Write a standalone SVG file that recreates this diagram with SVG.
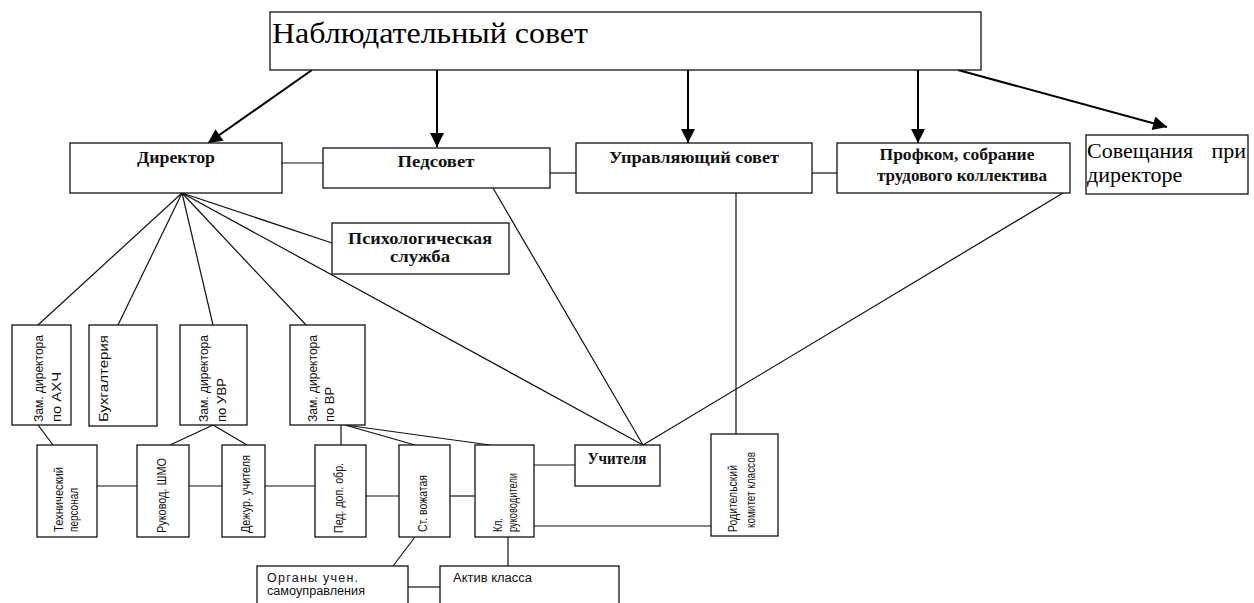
<svg xmlns="http://www.w3.org/2000/svg" width="1254" height="603" viewBox="0 0 1254 603">
<style>
.box{fill:#fff;stroke:#111;stroke-width:1.3}
.ln{stroke:#111;stroke-width:1.2;fill:none}
.ar{stroke:#000;stroke-width:2;fill:none}
.b{font-family:"Liberation Serif",serif;font-weight:bold;font-size:16px;fill:#111;text-anchor:middle}
.t{font-family:"Liberation Serif",serif;fill:#000}
.v{font-family:"Liberation Sans",sans-serif;font-size:13px;fill:#111}
.s{font-family:"Liberation Sans",sans-serif;font-size:12.5px;fill:#111}
</style>
<defs>
<marker id="ah" viewBox="0 0 10 10" refX="10" refY="5" markerWidth="8" markerHeight="7" markerUnits="strokeWidth" orient="auto">
<path d="M0,0 L10,5 L0,10 z" fill="#000"/>
</marker>
</defs>
<rect width="1254" height="603" fill="#fff"/>
<g id="connectors">
<line class="ar" x1="312" y1="70" x2="208" y2="143" marker-end="url(#ah)"/>
<line class="ar" x1="437" y1="70" x2="437" y2="147" marker-end="url(#ah)"/>
<line class="ar" x1="688" y1="70" x2="688" y2="143" marker-end="url(#ah)"/>
<line class="ar" x1="918" y1="70" x2="918" y2="143" marker-end="url(#ah)"/>
<line class="ar" x1="958" y1="70" x2="1167" y2="127" marker-end="url(#ah)"/>
<line class="ln" x1="282" y1="163" x2="323" y2="163"/>
<line class="ln" x1="550" y1="173" x2="576" y2="173"/>
<line class="ln" x1="812" y1="173" x2="837" y2="173"/>
<line class="ln" x1="182" y1="193" x2="38" y2="325"/>
<line class="ln" x1="182" y1="193" x2="118" y2="325"/>
<line class="ln" x1="182" y1="193" x2="213" y2="325"/>
<line class="ln" x1="182" y1="193" x2="306" y2="325"/>
<line class="ln" x1="182" y1="193" x2="332" y2="243"/>
<line class="ln" x1="182" y1="193" x2="643" y2="445"/>
<line class="ln" x1="493" y1="188" x2="643" y2="445"/>
<line class="ln" x1="1063" y1="193" x2="643" y2="445"/>
<line class="ln" x1="736" y1="193" x2="736" y2="434"/>
<line class="ln" x1="38" y1="425" x2="53" y2="445"/>
<line class="ln" x1="213" y1="425" x2="170" y2="445"/>
<line class="ln" x1="213" y1="425" x2="247" y2="445"/>
<line class="ln" x1="341" y1="425" x2="341" y2="445"/>
<line class="ln" x1="345" y1="425" x2="415" y2="445"/>
<line class="ln" x1="345" y1="425" x2="490" y2="445"/>
<line class="ln" x1="97" y1="486" x2="137" y2="486"/>
<line class="ln" x1="189" y1="486" x2="222" y2="486"/>
<line class="ln" x1="265" y1="486" x2="315" y2="486"/>
<line class="ln" x1="366" y1="496" x2="399" y2="496"/>
<line class="ln" x1="450" y1="496" x2="475" y2="496"/>
<line class="ln" x1="534" y1="465" x2="575" y2="465"/>
<line class="ln" x1="534" y1="526" x2="711" y2="526"/>
<line class="ln" x1="415" y1="537" x2="393" y2="566"/>
<line class="ln" x1="508" y1="537" x2="508" y2="566"/>
<line class="ln" x1="408" y1="587" x2="440" y2="587"/>
</g>
<g id="n-nabl"><rect class="box" x="270" y="12" width="711" height="58"/><text class="t" x="272" y="43" font-size="30" textLength="316" lengthAdjust="spacingAndGlyphs">Наблюдательный совет</text></g>
<g id="n-dir"><rect class="box" x="70" y="143" width="212" height="50"/><text class="b" x="176" y="163" textLength="78" lengthAdjust="spacingAndGlyphs">Директор</text></g>
<g id="n-ped"><rect class="box" x="323" y="148" width="227" height="40"/><text class="b" x="436" y="167" textLength="77" lengthAdjust="spacingAndGlyphs">Педсовет</text></g>
<g id="n-upr"><rect class="box" x="576" y="143" width="236" height="50"/><text class="b" x="694" y="163" textLength="170" lengthAdjust="spacingAndGlyphs">Управляющий совет</text></g>
<g id="n-prof"><rect class="box" x="837" y="143" width="233" height="50"/><text class="b" x="957" y="160" textLength="155" lengthAdjust="spacingAndGlyphs">Профком, собрание</text><text class="b" x="962" y="181" textLength="170" lengthAdjust="spacingAndGlyphs">трудового коллектива</text></g>
<g id="n-sov"><rect class="box" x="1086" y="135" width="162" height="59"/><text class="t" x="1087" y="158" font-size="22">Совещания</text><text class="t" x="1246" y="158" font-size="22" text-anchor="end">при</text><text class="t" x="1087" y="182" font-size="22">директоре</text></g>
<g id="n-psy"><rect class="box" x="332" y="223" width="177" height="51"/><text class="b" x="420" y="244" textLength="144" lengthAdjust="spacingAndGlyphs">Психологическая</text><text class="b" x="420" y="262" textLength="60" lengthAdjust="spacingAndGlyphs">служба</text></g>
<g id="n-ahch"><rect class="box" x="12" y="325" width="59" height="100"/><text class="v" transform="translate(43,422) rotate(-90)" textLength="87" lengthAdjust="spacingAndGlyphs">Зам. директора</text><text class="v" transform="translate(61,422) rotate(-90)" textLength="50" lengthAdjust="spacingAndGlyphs">по АХЧ</text></g>
<g id="n-buh"><rect class="box" x="89" y="325" width="68" height="101"/><text class="v" transform="translate(108,422) rotate(-90)" textLength="87" lengthAdjust="spacingAndGlyphs">Бухгалтерия</text></g>
<g id="n-uvr"><rect class="box" x="180" y="325" width="67" height="100"/><text class="v" transform="translate(208,422) rotate(-90)" textLength="87" lengthAdjust="spacingAndGlyphs">Зам. директора</text><text class="v" transform="translate(226,422) rotate(-90)" textLength="44" lengthAdjust="spacingAndGlyphs">по УВР</text></g>
<g id="n-vr"><rect class="box" x="290" y="325" width="75" height="100"/><text class="v" transform="translate(317,422) rotate(-90)" textLength="87" lengthAdjust="spacingAndGlyphs">Зам. директора</text><text class="v" transform="translate(334,422) rotate(-90)" textLength="35" lengthAdjust="spacingAndGlyphs">по ВР</text></g>
<g id="n-tech"><rect class="box" x="37" y="445" width="60" height="92"/><text class="v" transform="translate(63,532) rotate(-90)" textLength="65" lengthAdjust="spacingAndGlyphs">Технический</text><text class="v" transform="translate(78,532) rotate(-90)" textLength="44" lengthAdjust="spacingAndGlyphs">персонал</text></g>
<g id="n-shmo"><rect class="box" x="137" y="445" width="52" height="92"/><text class="v" transform="translate(166,533) rotate(-90)" textLength="75" lengthAdjust="spacingAndGlyphs">Руковод. ШМО</text></g>
<g id="n-dezh"><rect class="box" x="222" y="445" width="43" height="92"/><text class="v" transform="translate(250,533) rotate(-90)" textLength="78" lengthAdjust="spacingAndGlyphs">Дежур. учителя</text></g>
<g id="n-pdo"><rect class="box" x="315" y="445" width="51" height="92"/><text class="v" transform="translate(343,533) rotate(-90)" textLength="70" lengthAdjust="spacingAndGlyphs">Пед. доп. обр.</text></g>
<g id="n-vozh"><rect class="box" x="399" y="445" width="51" height="92"/><text class="v" transform="translate(427,532) rotate(-90)" textLength="57" lengthAdjust="spacingAndGlyphs">Ст. вожатая</text></g>
<g id="n-kl"><rect class="box" x="475" y="445" width="59" height="92"/><text class="v" transform="translate(502,532) rotate(-90)" textLength="14" lengthAdjust="spacingAndGlyphs">Кл.</text><text class="v" transform="translate(517,532) rotate(-90)" textLength="59" lengthAdjust="spacingAndGlyphs">руководители</text></g>
<g id="n-uch"><rect class="box" x="575" y="445" width="85" height="41"/><text class="b" x="617" y="464" textLength="59" lengthAdjust="spacingAndGlyphs">Учителя</text></g>
<g id="n-rod"><rect class="box" x="711" y="434" width="67" height="102"/><text class="v" transform="translate(737,532) rotate(-90)" textLength="67" lengthAdjust="spacingAndGlyphs">Родительский</text><text class="v" transform="translate(755,528) rotate(-90)" textLength="76" lengthAdjust="spacingAndGlyphs">комитет классов</text></g>
<g id="n-org"><rect class="box" x="257" y="566" width="151" height="45"/><text class="s" x="267" y="582" textLength="91" lengthAdjust="spacing">Органы  учен.</text><text class="s" x="267" y="595" textLength="98" lengthAdjust="spacingAndGlyphs">самоуправления</text></g>
<g id="n-akt"><rect class="box" x="440" y="566" width="179" height="45"/><text class="s" x="453" y="582" textLength="79" lengthAdjust="spacingAndGlyphs">Актив класса</text></g>
</svg>
